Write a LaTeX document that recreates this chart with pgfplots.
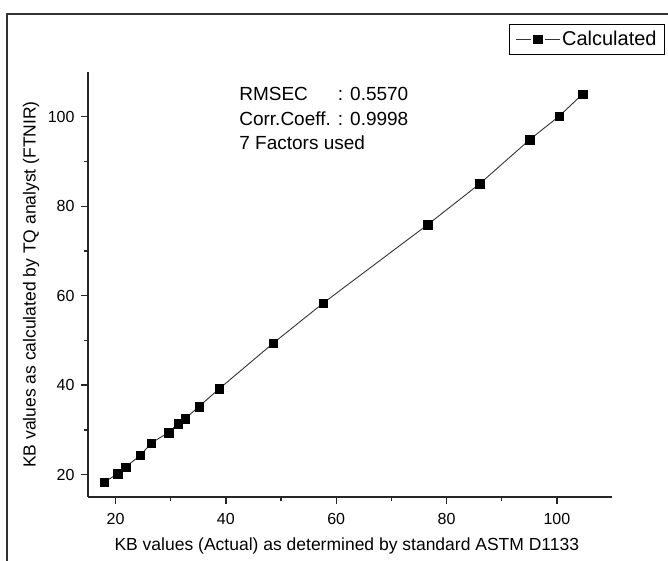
\documentclass[border=0pt]{standalone}
\usepackage{pgfplots}
\pgfplotsset{compat=1.18}
\usepackage{fontspec}
\setmainfont{Liberation Sans}

\begin{document}
\begin{tikzpicture}[x=1pt,y=1pt]
\useasboundingbox (0,0) rectangle (668,561);
% outer frame (cut by the page on the right and bottom)
\draw[line width=1.6pt, black!80] (7,-10) rectangle (690,547);

\begin{axis}[
    at={(88pt,64pt)}, anchor=south west,
    scale only axis,
    width=524pt, height=425pt,
    xmin=15, xmax=110, ymin=15, ymax=110,
    axis lines*=left,
    axis line style={line width=1.6pt, black!85},
    tick align=outside,
    major tick length=7pt, minor tick length=4pt,
    every tick/.style={line width=1.4pt, black!85},
    xtick={20,40,60,80,100}, ytick={20,40,60,80,100},
    minor tick num=1,
    /pgf/number format/assume math mode=true,
    tick label style={font=\fontsize{16}{18}\selectfont},
    xticklabel style={yshift=-6pt},
    yticklabel style={xshift=-3pt},
    xlabel={KB values (Actual) as determined by standard ASTM D1133},
    ylabel={KB values as calculated by TQ analyst (FTNIR)},
    every axis x label/.style={at={(axis description cs:0.494,-0.1153)}, anchor=center,
        font=\fontsize{17.5}{20}\selectfont},
    every axis y label/.style={at={(axis description cs:-0.1088,0.5)}, anchor=center, rotate=90,
        font=\fontsize{17.5}{20}\selectfont},
    legend style={at={(axis description cs:0.803,1.113)}, anchor=north west,
        draw=black, line width=0.8pt, font=\fontsize{20}{23}\selectfont,
        inner xsep=6pt, inner ysep=5pt,
        every legend entry/.append style={inner xsep=5pt}},
    legend image code/.code={
        \draw[#1] (0pt,0pt) -- (15pt,0pt);
        \draw[#1] (29pt,0pt) -- (44pt,0pt);
        \draw[#1, only marks] plot coordinates {(22pt,0pt)};},
    clip=false,
]
\addplot[black!80, line width=0.9pt, mark=square*, mark size=4.2pt,
    mark options={fill=black, draw=black, line width=0.3pt}]
coordinates {
(17.9,18.3) (20.4,20.2) (21.8,21.7) (24.5,24.3) (26.5,27.1)
(29.6,29.4) (31.3,31.4) (32.6,32.5) (35.1,35.2) (38.8,39.2)
(48.6,49.4) (57.6,58.3) (76.6,75.9) (86.0,85.0) (95.1,94.9)
(100.4,100.1) (104.7,105.1)
};
\addlegendentry{Calculated}

\node[anchor=base west, inner sep=0pt, font=\fontsize{19}{24.5}\selectfont]
  at (axis cs:42.4,103.6)
  {\begin{tabular}[t]{@{}l@{ }l@{}}
   RMSEC & : 0.5570\\
   Corr.Coeff. & : 0.9998\\
   \multicolumn{2}{@{}l@{}}{7 Factors used}
   \end{tabular}};
\end{axis}
\end{tikzpicture}
\end{document}
